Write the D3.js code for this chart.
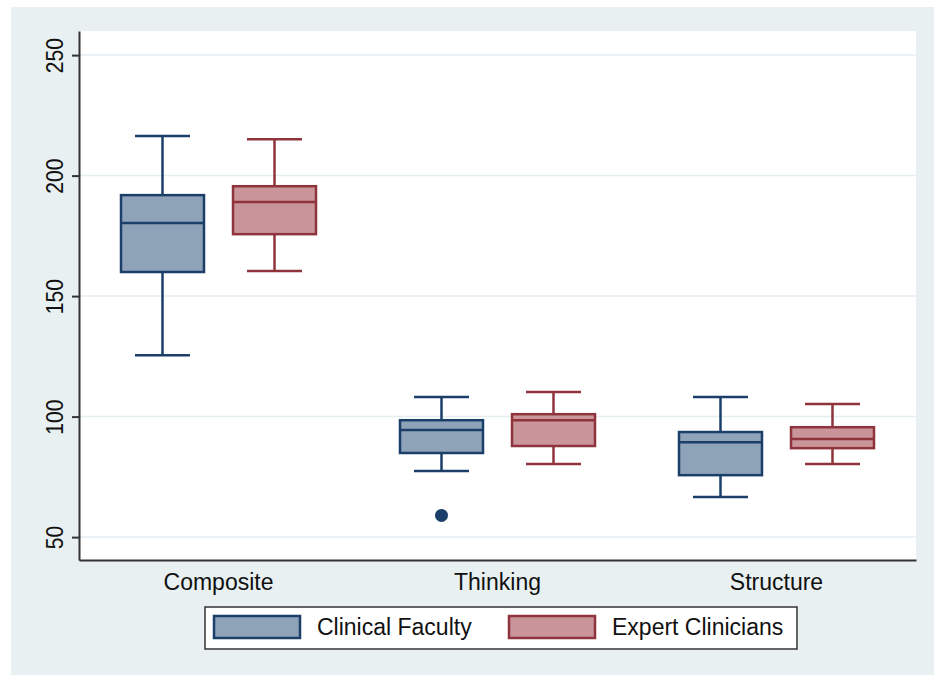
<!DOCTYPE html>
<html>
<head>
<meta charset="utf-8">
<script src="https://cdn.jsdelivr.net/npm/d3@7"></script>
<style>
  body { margin: 0; background: #fff; }
  text { font-family: "Liberation Sans", Arial, sans-serif; fill: #111; }
</style>
</head>
<body>
<div id="chart"></div>
<script>
const categories = ["Composite", "Thinking", "Structure"];
const groups = ["Clinical Faculty", "Expert Clinicians"];
const yTicks = [50, 100, 150, 200, 250];

// [lower whisker, q1, median, q3, upper whisker] per category
const facultyStats = [
  [125.5, 160, 180.3, 191.9, 216.4],
  [77.4, 84.9, 94.4, 98.5, 108.1],
  [66.6, 75.7, 89.4, 93.6, 108.1]
];
const expertStats = [
  [160.4, 175.7, 189, 195.6, 215.1],
  [80.3, 87.8, 98.5, 101, 110.2],
  [80.3, 86.9, 90.7, 95.6, 105.2]
];
const facultyOutliers = [[], [59], []];
const expertOutliers = [[], [], []];

const fills = ["#8fa3b8", "#c9959a"];
const strokes = ["#1b3f68", "#8f343c"];

const W = 934, H = 675;
const margin = { top: 31, right: 18, bottom: 115, left: 79 };
const width = W - margin.left - margin.right;
const height = H - margin.top - margin.bottom;

const svg = d3.select("#chart").append("svg")
  .attr("width", W)
  .attr("height", H);

svg.append("rect")
  .attr("x", 11).attr("y", 7)
  .attr("width", W - 11).attr("height", H - 7)
  .attr("fill", "#e8f0f2");

const g = svg.append("g")
  .attr("transform", `translate(${margin.left},${margin.top})`);

g.append("rect")
  .attr("width", width).attr("height", height)
  .attr("fill", "#fff");

const x = d3.scaleBand().domain(categories).range([0, width]);
const xg = d3.scaleBand().domain(groups).range([-97.5, 97.5]).paddingInner(0.259);
const y = d3.scaleLinear().domain([40.5, 260]).range([height, 0]);

// gridlines
g.selectAll(".grid")
  .data(yTicks)
  .enter().append("line")
  .attr("x1", 0).attr("x2", width)
  .attr("y1", d => y(d)).attr("y2", d => y(d))
  .attr("stroke", "#e4edf0")
  .attr("stroke-width", 1.5);

const data = [];
categories.forEach((c, i) => {
  data.push({ cat: c, grp: 0, s: facultyStats[i], out: facultyOutliers[i] });
  data.push({ cat: c, grp: 1, s: expertStats[i], out: expertOutliers[i] });
});

const boxW = xg.bandwidth();
const capW = 55;

const box = g.selectAll(".box")
  .data(data)
  .enter().append("g")
  .attr("class", "box")
  .attr("transform", d => `translate(${x(d.cat) + x.bandwidth() / 2 + xg(groups[d.grp]) + boxW / 2},0)`);

// whiskers
box.append("line")
  .attr("x1", 0).attr("x2", 0)
  .attr("y1", d => y(d.s[4])).attr("y2", d => y(d.s[3]))
  .attr("stroke", d => strokes[d.grp]).attr("stroke-width", 2.5);
box.append("line")
  .attr("x1", 0).attr("x2", 0)
  .attr("y1", d => y(d.s[1])).attr("y2", d => y(d.s[0]))
  .attr("stroke", d => strokes[d.grp]).attr("stroke-width", 2.5);
box.selectAll(".cap")
  .data(d => [d.s[0], d.s[4]].map(v => ({ v, grp: d.grp })))
  .enter().append("line")
  .attr("x1", -capW / 2).attr("x2", capW / 2)
  .attr("y1", d => y(d.v)).attr("y2", d => y(d.v))
  .attr("stroke", d => strokes[d.grp]).attr("stroke-width", 2.5);

box.append("rect")
  .attr("x", -boxW / 2)
  .attr("width", boxW)
  .attr("y", d => y(d.s[3]))
  .attr("height", d => y(d.s[1]) - y(d.s[3]))
  .attr("fill", d => fills[d.grp])
  .attr("stroke", d => strokes[d.grp])
  .attr("stroke-width", 2.5);

box.append("line")
  .attr("x1", -boxW / 2).attr("x2", boxW / 2)
  .attr("y1", d => y(d.s[2])).attr("y2", d => y(d.s[2]))
  .attr("stroke", d => strokes[d.grp]).attr("stroke-width", 2.5);

box.selectAll(".out")
  .data(d => d.out.map(v => ({ v, grp: d.grp })))
  .enter().append("circle")
  .attr("cx", 0).attr("cy", d => y(d.v))
  .attr("r", 6.5)
  .attr("fill", d => strokes[d.grp]);

// axes
const yAxis = g.append("g")
  .call(d3.axisLeft(y).tickValues(yTicks).tickSize(7).tickSizeOuter(0));
yAxis.select(".domain").attr("stroke", "#333").attr("stroke-width", 2);
yAxis.selectAll(".tick line").attr("stroke", "#333").attr("stroke-width", 2);
yAxis.selectAll(".tick text")
  .attr("transform", "rotate(-90)")
  .attr("x", 0).attr("y", -16)
  .attr("dy", 0)
  .attr("text-anchor", "middle")
  .attr("textLength", d => String(d).length * 11.7)
  .attr("lengthAdjust", "spacingAndGlyphs")
  .style("font-size", "24px");

const xAxis = g.append("g")
  .attr("transform", `translate(0,${height})`)
  .call(d3.axisBottom(x).tickSize(0).tickSizeOuter(0));
xAxis.select(".domain").attr("stroke", "#333").attr("stroke-width", 2);
xAxis.selectAll(".tick text")
  .attr("y", 30)
  .attr("dy", 0)
  .style("font-size", "23px");

// legend
const legend = svg.append("g").attr("transform", "translate(205,607)");
legend.append("rect")
  .attr("width", 592).attr("height", 42)
  .attr("fill", "#fff")
  .attr("stroke", "#333").attr("stroke-width", 1.5);

const legendX = [9, 304];
const item = legend.selectAll(".item")
  .data(groups)
  .enter().append("g")
  .attr("transform", (d, i) => `translate(${legendX[i]},9)`);
item.append("rect")
  .attr("width", 86).attr("height", 22)
  .attr("fill", (d, i) => fills[i])
  .attr("stroke", (d, i) => strokes[i])
  .attr("stroke-width", 2.5);
item.append("text")
  .attr("x", 103).attr("y", 19)
  .style("font-size", "23px")
  .text(d => d);
</script>
</body>
</html>
